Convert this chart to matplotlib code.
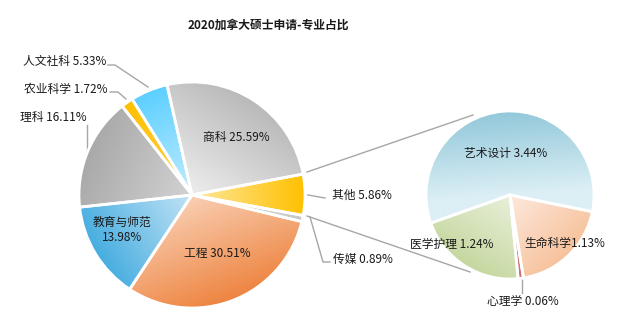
import matplotlib
matplotlib.use('Agg')
import matplotlib.pyplot as plt
import numpy as np
from matplotlib.colors import to_rgb

plt.rcParams['font.family'] = ['Noto Sans CJK SC', 'DejaVu Sans']

# 主饼图数据
main_labels = ['商科', '其他', '传媒', '工程', '教育与师范', '理科', '农业科学', '人文社科']
main_values = [25.59, 5.86, 0.89, 30.51, 13.98, 16.11, 1.72, 5.33]
# 子饼图（其他）数据
sub_labels = ['艺术设计', '生命科学', '心理学', '医学护理']
sub_values = [3.44, 1.13, 0.06, 1.24]

main_colors = [('#ededed', '#b9b9b9'), ('#fde9a0', '#ffc000'), ('#e2e2e2', '#c8c8c8'),
               ('#f9cfb3', '#ee8440'), ('#c2e3f5', '#46ade0'), ('#d2d2d2', '#a9a9a9'),
               ('#ffd050', '#ffc000'), ('#c2edff', '#5ccfff')]
sub_colors = [('#dcefF5', '#92c8da'), ('#fde9de', '#f7c29b'), ('#e0a0a0', '#c87070'),
              ('#e9f0da', '#c5d79f')]

H = 331


def py(y):
    return H - y


fig = plt.figure(figsize=(6.23, 3.31), dpi=100)
ax = fig.add_axes([0, 0, 1, 1])


def fill_gradient(w, light, dark):
    cx, cy = w.center
    r = w.r
    mid = np.deg2rad((w.theta1 + w.theta2) / 2)
    xs = np.linspace(cx - r, cx + r, 240)
    ys = np.linspace(cy - r, cy + r, 240)
    X, Y = np.meshgrid(xs, ys)
    t = np.clip(((X - cx) * np.cos(mid) + (Y - cy) * np.sin(mid)) / r, 0, 1)
    lo, hi = np.array(to_rgb(light)), np.array(to_rgb(dark))
    img = lo * (1 - t)[..., None] + hi * t[..., None]
    im = ax.imshow(img, extent=(cx - r, cx + r, cy - r, cy + r), origin='lower',
                   zorder=1, interpolation='bilinear')
    im.set_clip_path(w)
    w.set_facecolor('none')
    w.set_zorder(2)


wp = dict(edgecolor='white', linewidth=2)
w_main, _ = ax.pie(main_values, center=(192, py(195)), radius=113, startangle=102.8,
                   counterclock=False, wedgeprops=wp)
w_sub, _ = ax.pie(sub_values, center=(510, py(195)), radius=84, startangle=199.5,
                  counterclock=False, wedgeprops=wp)
for w, (lo, hi) in zip(w_main, main_colors):
    fill_gradient(w, lo, hi)
for w, (lo, hi) in zip(w_sub, sub_colors):
    fill_gradient(w, lo, hi)

# 连接线
line_kw = dict(color='#a6a6a6', lw=1, zorder=0)
ax.plot([307, 473], [py(172), py(115)], **line_kw)
ax.plot([307, 470], [py(216), py(272)], **line_kw)

# 引导线
ax.plot([108, 115, 148], [py(65), py(65), py(87)], **line_kw)
ax.plot([110, 118, 126], [py(92), py(92), py(99)], **line_kw)
ax.plot([87, 87], [py(125), py(150)], **line_kw)
ax.plot([308, 325], [py(195), py(198)], **line_kw)
ax.plot([310, 323, 330], [py(217), py(262), py(262)], **line_kw)
ax.plot([522, 522], [py(279), py(293)], **line_kw)

fs = 8.5
tc = '#1a1a1a'
main_pos = [(236, 137, 'center'), (332, 195, 'left'), (333, 259, 'left'),
            (217, 253, 'center'), (122, 230, 'center'), (87, 117, 'right'),
            (107, 89, 'right'), (106, 62, 'right')]
for name, v, (x, y, ha) in zip(main_labels, main_values, main_pos):
    sep = '\n' if name == '教育与师范' else ' '
    ax.text(x, py(y), f'{name}{sep}{v:.2f}%', ha=ha, va='center', fontsize=fs,
            color=tc, zorder=5, linespacing=1.25)

sub_pos = [(506, 153), (565, 243), (523, 301), (452, 244)]
for name, v, (x, y) in zip(sub_labels, sub_values, sub_pos):
    sep = '' if name == '生命科学' else ' '
    ax.text(x, py(y), f'{name}{sep}{v:.2f}%', ha='center', va='center', fontsize=fs,
            color=tc, zorder=5)

ax.text(268, py(25), '2020加拿大硕士申请-专业占比', ha='center', va='center',
        fontsize=8.5, fontweight='bold', color='#1a1a1a')

ax.set_xlim(0, 623)
ax.set_ylim(0, H)
ax.set_aspect('auto')
ax.axis('off')
fig.savefig('out.png', dpi=100)
